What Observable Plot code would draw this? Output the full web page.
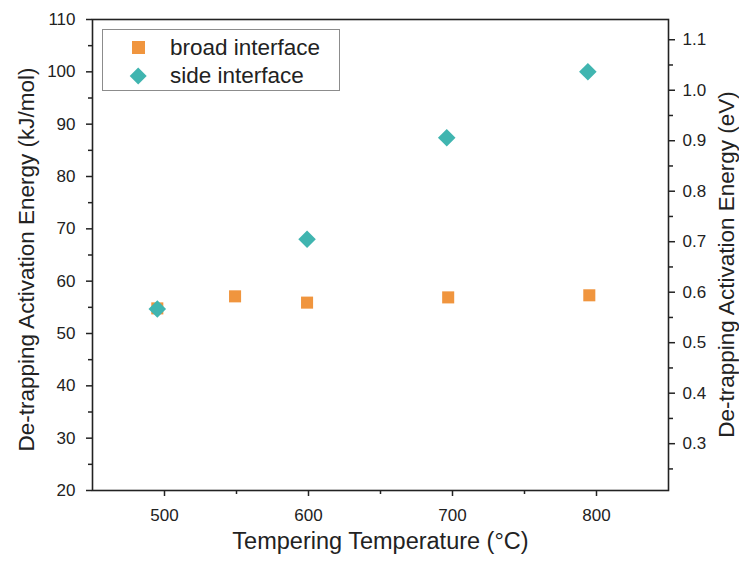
<!DOCTYPE html>
<html><head><meta charset="utf-8">
<script src="https://cdn.jsdelivr.net/npm/d3@7"></script>
<script src="https://cdn.jsdelivr.net/npm/@observablehq/plot@0.6"></script>
<style>
body{margin:0;background:#fff;font-family:"Liberation Sans",Arial,sans-serif;}
#wrap{position:relative;width:739px;height:562px;}
.legend{position:absolute;left:102px;top:29px;width:238px;height:62px;border:1px solid #8c8c8c;box-sizing:border-box;background:#fff;}
.legend .lab{position:absolute;left:67px;font-size:22.5px;color:#222;line-height:22px;white-space:nowrap;}
.legend .sym{position:absolute;}
</style></head><body><div id="wrap"></div>
<script>
// ---- data ----
const broadTemp = [495, 549, 599, 697, 795];
const broadEnergy = [54.8, 57.1, 55.9, 56.9, 57.3];
const sideTemp = [495, 599, 696, 794];
const sideEnergy = [54.7, 68.0, 87.4, 100.0];
const seriesNames = ["broad interface", "side interface"];
const seriesColors = ["#F0953E", "#40B5B0"];
const xMajor = [500, 600, 700, 800];
const xMinor = [550, 650, 750];
const yMajor = [20, 30, 40, 50, 60, 70, 80, 90, 100, 110];
const yMinor = [25, 35, 45, 55, 65, 75, 85, 95, 105];
const eVMajor = [0.3, 0.4, 0.5, 0.6, 0.7, 0.8, 0.9, 1.0, 1.1];
const eVMinor = [0.25, 0.35, 0.45, 0.55, 0.65, 0.75, 0.85, 0.95, 1.05];
const KJ_PER_EV = 96.485;
const xTitle = "Tempering Temperature (°C)";
const yTitle = "De-trapping Activation Energy (kJ/mol)";
const y2Title = "De-trapping Activation Energy (eV)";

const broad = broadTemp.map((t, i) => ({t, e: broadEnergy[i]}));
const side = sideTemp.map((t, i) => ({t, e: sideEnergy[i]}));

const squareSym = {draw(ctx, size) { const h = Math.sqrt(size) / 2; ctx.rect(-h, -h, 2 * h, 2 * h); }};
const diamondSym = {draw(ctx, size) { const r = Math.sqrt(size) * 0.7071; ctx.moveTo(0, -r); ctx.lineTo(r, 0); ctx.lineTo(0, r); ctx.lineTo(-r, 0); ctx.closePath(); }};

const ink = "#222";
const tickFont = 17;
const titleFont = 23.5;
const sideTitleFont = 22.5;

const chart = Plot.plot({
  width: 739,
  height: 562,
  marginLeft: 92,
  marginRight: 71,
  marginTop: 19,
  marginBottom: 72,
  style: {fontFamily: '"Liberation Sans", Arial, sans-serif', color: ink, background: "#fff"},
  x: {domain: [450, 850]},
  y: {domain: [20, 110]},
  marks: [
    Plot.axisX(xMajor, {anchor: "bottom", tickSize: 6, tickPadding: 12, fontSize: tickFont, strokeWidth: 1.5, label: null}),
    Plot.axisX(xMinor, {anchor: "bottom", tickSize: 4, tickFormat: () => "", strokeWidth: 1.5, label: null}),
    Plot.axisY(yMajor, {anchor: "left", tickSize: 6, tickPadding: 11, fontSize: tickFont, strokeWidth: 1.5, label: null}),
    Plot.axisY(yMinor, {anchor: "left", tickSize: 4, tickFormat: () => "", strokeWidth: 1.5, label: null}),
    Plot.axisY(eVMajor.map(v => v * KJ_PER_EV), {anchor: "right", tickSize: 6, tickPadding: 8, fontSize: tickFont, strokeWidth: 1.5, tickFormat: d => (d / KJ_PER_EV).toFixed(1), label: null}),
    Plot.axisY(eVMinor.map(v => v * KJ_PER_EV), {anchor: "right", tickSize: 4, tickFormat: () => "", strokeWidth: 1.5, label: null}),
    Plot.frame({stroke: ink, strokeWidth: 1.6}),
    Plot.text([xTitle], {frameAnchor: "bottom", dy: 58.8, fontSize: titleFont, fill: ink}),
    Plot.text([yTitle], {frameAnchor: "left", textAnchor: "middle", rotate: -90, dx: -66, dy: 4.5, fontSize: sideTitleFont, fill: ink}),
    Plot.text([y2Title], {frameAnchor: "right", textAnchor: "middle", rotate: -90, dx: 58, dy: 9.5, fontSize: sideTitleFont, fill: ink}),
    Plot.dot(broad, {x: "t", y: "e", symbol: squareSym, r: 6.8, fill: seriesColors[0], stroke: "none"}),
    Plot.dot(side, {x: "t", y: "e", symbol: diamondSym, r: 7.0, fill: seriesColors[1], stroke: "none"})
  ]
});

const wrap = document.getElementById("wrap");
wrap.appendChild(chart);

// legend (inside the plot frame, top-left)
const legend = document.createElement("div");
legend.className = "legend";
const rows = [
  {sym: "square", top: 17, base: 25},
  {sym: "diamond", top: 46, base: 53}
];
rows.forEach((r, i) => {
  const s = document.createElement("div");
  s.className = "sym";
  if (r.sym === "square") {
    Object.assign(s.style, {left: (35 - 6.5) + "px", top: (r.top - 6.5) + "px", width: "13px", height: "13px", background: seriesColors[i]});
  } else {
    Object.assign(s.style, {left: (35.5 - 6.2) + "px", top: (r.top - 6.2) + "px", width: "12.4px", height: "12.4px", background: seriesColors[i], transform: "rotate(45deg)"});
  }
  legend.appendChild(s);
  const t = document.createElement("div");
  t.className = "lab";
  t.textContent = seriesNames[i];
  t.style.top = (r.base - 18) + "px";
  legend.appendChild(t);
});
wrap.appendChild(legend);
</script>
</body></html>
